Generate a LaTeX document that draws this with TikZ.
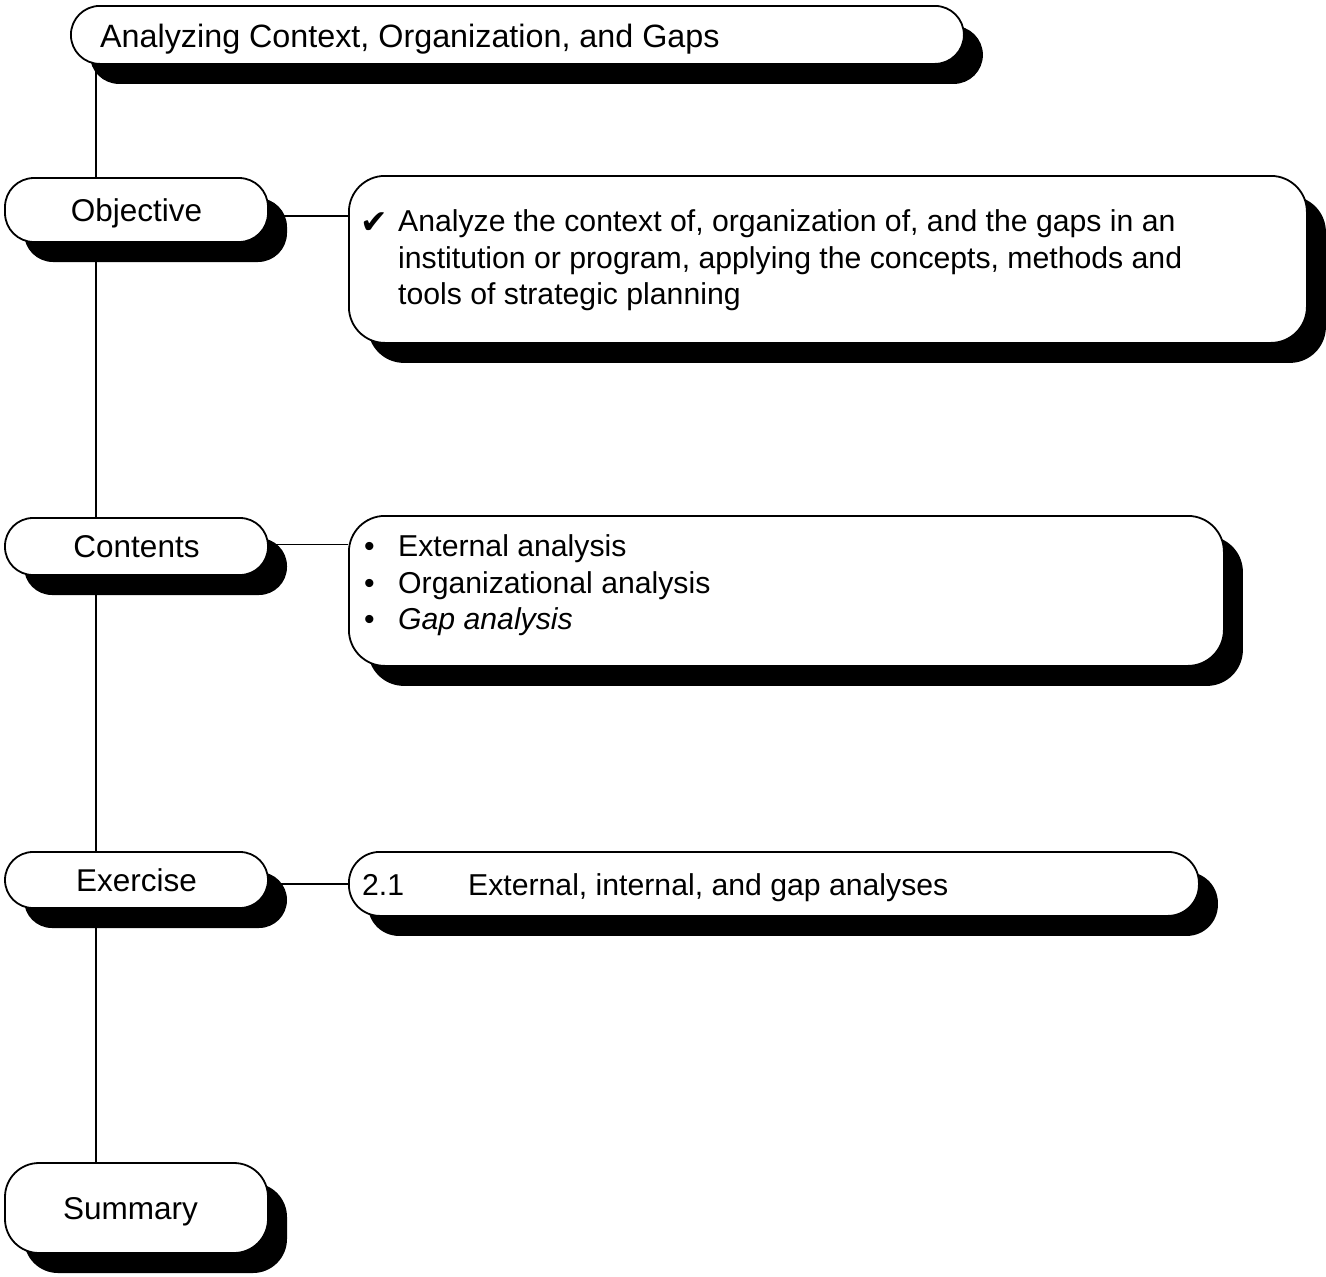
\documentclass[tikz,border=0pt]{standalone}
\usepackage{fontspec}
\setmainfont{Liberation Sans}
\newfontfamily\symfont{DejaVu Sans}
\usetikzlibrary{shadows,backgrounds}
\begin{document}
\begin{tikzpicture}[x=1pt,y=-1pt,
  box/.style={draw=black, line width=1.8pt, fill=white, inner sep=0pt,
    drop shadow={shadow xshift=19pt, shadow yshift=-20pt, fill=black, opacity=1, draw=none}},
  lbl/.style={font=\fontsize{31.5}{36}\selectfont, text depth=0pt},
  body/.style={font=\fontsize{30.2}{36}\selectfont, inner sep=0pt, anchor=base west},
  conn/.style={line width=1.3pt}]
\useasboundingbox (0,0) rectangle (1326,1277);

% title
\node[box, rounded corners=29pt, minimum width=893pt, minimum height=58pt, anchor=north west] (title) at (70,5) {};
\node[font=\fontsize{32.3}{36}\selectfont, inner sep=0pt, anchor=base west] (titletext) at (100,47) {Analyzing Context, Organization, and Gaps};

% left boxes
\node[box, lbl, rounded corners=29pt, minimum width=263pt, minimum height=64pt] (objL) at (136.5,210) {Objective};
\node[box, lbl, rounded corners=28pt, minimum width=263pt, minimum height=57pt] (conL) at (136.5,546.5) {Contents};
\node[box, lbl, rounded corners=28pt, minimum width=263pt, minimum height=56pt] (exL) at (136.5,880) {Exercise};
\node[box, lbl, rounded corners=34pt, minimum width=263pt, minimum height=90pt] (sumL) at (136.5,1208) {Summary\kern12pt};

% content boxes
\node[box, rounded corners=36pt, minimum width=958pt, minimum height=167pt, anchor=north west] (objC) at (348,175) {};
\node[box, rounded corners=36pt, minimum width=875pt, minimum height=150pt, anchor=north west] (conC) at (348,515) {};
\node[box, rounded corners=31pt, minimum width=850pt, minimum height=64pt, anchor=north west] (exC) at (348,851) {};

% objective text
\node[body, font=\fontsize{33}{36}\symfont] (chk) at (360,233) {✔};
\node[body] (o1) at (398,231) {Analyze the context of, organization of, and the gaps in an};
\node[body] (o2) at (398,268) {institution or program, applying the concepts, methods and};
\node[body] (o3) at (398,304) {tools of strategic planning};

% contents text
\node[body] (b1) at (364,556) {•};
\node[body] (c1) at (398,556) {External analysis};
\node[body] (b2) at (364,593) {•};
\node[body] (c2) at (398,593) {Organizational analysis};
\node[body] (b3) at (364,629) {•};
\node[body] (c3) at (398,629) {\itshape Gap analysis};

% exercise text
\node[body] (e1) at (362,895) {2.1};
\node[body] (e2) at (468,895) {External, internal, and gap analyses};

% connectors
\begin{scope}[on background layer]
\coordinate (trunk) at (96,63);
\draw[conn] (trunk) -- (trunk |- sumL.north);
\draw[conn] (objL.east) ++(0,6) coordinate (oa) -- (oa -| objC.west);
\draw[conn] (conL.east) ++(0,-2) coordinate (ca) -- (ca -| conC.west);
\draw[conn] (exL.east) ++(0,4) coordinate (ea) -- (ea -| exC.west);
\end{scope}
\end{tikzpicture}
\end{document}
